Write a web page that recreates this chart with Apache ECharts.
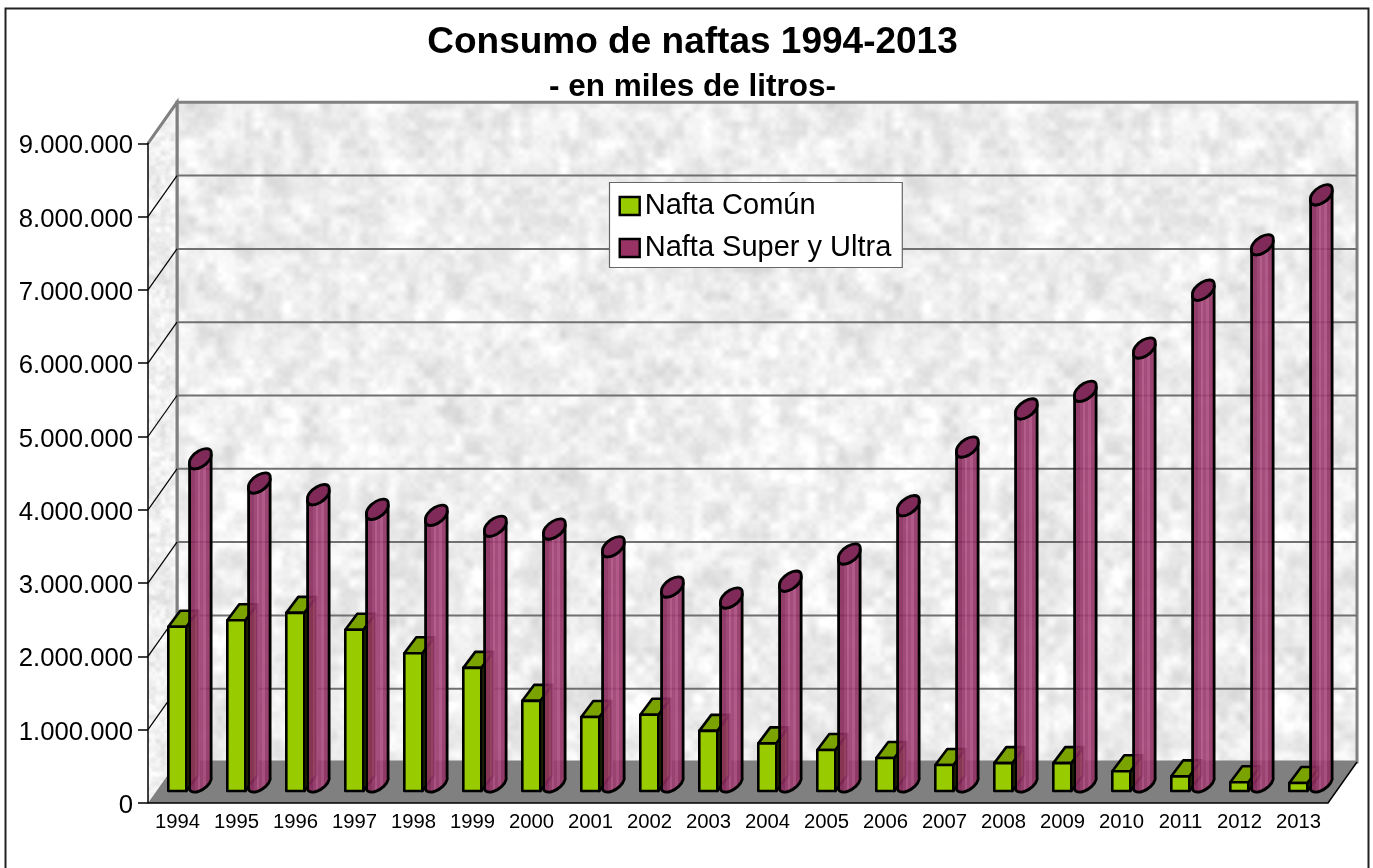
<!DOCTYPE html>
<html>
<head>
<meta charset="utf-8">
<style>html,body{margin:0;padding:0;background:#fff}#c{width:1373px;height:868px}</style>
<script src="https://cdn.jsdelivr.net/npm/echarts@6/dist/echarts.min.js"></script>
</head>
<body>
<div id="c"></div>
<script>
const years = ['1994','1995','1996','1997','1998','1999','2000','2001','2002','2003','2004','2005','2006','2007','2008','2009','2010','2011','2012','2013'];
const naftaComun = [2240000,2330000,2430000,2200000,1880000,1680000,1230000,1010000,1040000,820000,650000,560000,450000,355000,380000,380000,270000,200000,120000,110000];
const naftaSuper = [4410000,4080000,3920000,3720000,3640000,3490000,3450000,3210000,2660000,2510000,2740000,3110000,3770000,4570000,5090000,5330000,5920000,6710000,7330000,8010000];
const yTicks = [1000000,2000000,3000000,4000000,5000000,6000000,7000000,8000000,9000000];
const titleText = 'Consumo de naftas 1994-2013';
const subtitleText = '- en miles de litros-';
const seriesNames = ['Nafta Común','Nafta Super y Ultra'];

const FONT = '"Liberation Sans", Arial, sans-serif';
const WALL_DX = 29, WALL_DY = -41;   // depth of the 3D box
const BAR_DX = 12, BAR_DY = -16;     // depth of the square bars
const BASE_LIFT = 12;                // bars stand this far behind the floor's front edge

// deterministic mottled texture for the walls
function makeTexture(size, base, amp, sd) {
  const cv = document.createElement('canvas');
  cv.width = cv.height = size;
  const ctx = cv.getContext('2d');
  const img = ctx.createImageData(size, size);
  let seed = sd;
  const next = () => {
    seed ^= seed << 13; seed ^= seed >>> 17; seed ^= seed << 5;
    return (seed >>> 0) / 4294967296;
  };
  function layer(n) {
    const g = [];
    for (let i = 0; i < n * n; i++) g.push(next());
    return (x, y) => {
      const fx = x / size * n, fy = y / size * n;
      const ix = Math.floor(fx), iy = Math.floor(fy);
      let tx = fx - ix, ty = fy - iy;
      tx = tx * tx * (3 - 2 * tx); ty = ty * ty * (3 - 2 * ty);
      const v = (a, b) => g[(b % n) * n + (a % n)];
      return (v(ix, iy) * (1 - tx) + v(ix + 1, iy) * tx) * (1 - ty) +
             (v(ix, iy + 1) * (1 - tx) + v(ix + 1, iy + 1) * tx) * ty;
    };
  }
  const a = layer(12), b = layer(31), c = layer(67), d = layer(140);
  for (let y = 0; y < size; y++) for (let x = 0; x < size; x++) {
    const t = a(x, y) * 0.15 + b(x, y) * 0.3 + c(x, y) * 0.4 + d(x, y) * 0.15;
    const val = Math.max(0, Math.min(255, base + (t - 0.5) * amp));
    const i = (y * size + x) * 4;
    img.data[i] = img.data[i + 1] = img.data[i + 2] = val;
    img.data[i + 3] = 255;
  }
  ctx.putImageData(img, 0, 0);
  return cv;
}
const wallPattern = { image: makeTexture(640, 238, 62, 2463534242), repeat: 'repeat' };
const sidePattern = { image: makeTexture(320, 240, 55, 88172645), repeat: 'repeat' };

function renderWalls(params, api) {
  const cs = params.coordSys;
  const x0 = cs.x, x1 = cs.x + cs.width, yb = cs.y + cs.height, yt = cs.y;
  const pts = (arr) => ({ points: arr });
  const grey = '#808080';
  return { type: 'group', children: [
    { type: 'polygon', shape: pts([[x0 + WALL_DX, yt + WALL_DY], [x1 + WALL_DX, yt + WALL_DY], [x1 + WALL_DX, yb + WALL_DY], [x0 + WALL_DX, yb + WALL_DY]]),
      style: { fill: wallPattern, stroke: grey, lineWidth: 3 } },
    { type: 'polygon', shape: pts([[x0, yt], [x0 + WALL_DX, yt + WALL_DY], [x0 + WALL_DX, yb + WALL_DY], [x0, yb]]),
      style: { fill: sidePattern, stroke: null } },
    { type: 'polyline', shape: pts([[x0, yt], [x0 + WALL_DX, yt + WALL_DY], [x0 + WALL_DX, yb + WALL_DY]]),
      style: { fill: null, stroke: grey, lineWidth: 3 } },
    { type: 'polygon', shape: pts([[x0, yb], [x1, yb], [x1 + WALL_DX, yb + WALL_DY], [x0 + WALL_DX, yb + WALL_DY]]),
      style: { fill: '#808080', stroke: null } },
    { type: 'polyline', shape: pts([[x0, yb], [x1, yb], [x1 + WALL_DX, yb + WALL_DY]]),
      style: { fill: null, stroke: '#000', lineWidth: 1.5 } }
  ]};
}

function renderGrid(params, api) {
  const p = api.coord([0, api.value(0)]);
  const cs = params.coordSys;
  const x0 = cs.x, x1 = cs.x + cs.width, y = p[1];
  const kids = [];
  if (api.value(0) < 9000000) {
    kids.push({ type: 'line', shape: { x1: x0 + WALL_DX, y1: y + WALL_DY, x2: x1 + WALL_DX, y2: y + WALL_DY },
      style: { stroke: '#707070', lineWidth: 2 } });
    kids.push({ type: 'line', shape: { x1: x0, y1: y, x2: x0 + WALL_DX, y2: y + WALL_DY },
      style: { stroke: '#000', lineWidth: 1.2 } });
  }
  return { type: 'group', children: kids };
}

function renderBox(params, api) {
  const c = api.coord([api.value(0), 0])[0];
  const base = api.coord([api.value(0), 0])[1] - BASE_LIFT;
  const top = api.coord([api.value(0), api.value(1)])[1] - BASE_LIFT;
  const L = c - 9.2, R = c + 8.8;
  const st = { stroke: '#000', lineWidth: 2.6, lineJoin: 'round' };
  return { type: 'group', children: [
    { type: 'polygon', shape: { points: [[R, top], [R + BAR_DX, top + BAR_DY], [R + BAR_DX, base + BAR_DY], [R, base]] },
      style: Object.assign({ fill: '#7aa300' }, st) },
    { type: 'polygon', shape: { points: [[L, top], [R, top], [R + BAR_DX, top + BAR_DY], [L + BAR_DX, top + BAR_DY]] },
      style: Object.assign({ fill: '#7aa300' }, st) },
    { type: 'rect', shape: { x: L, y: top, width: R - L, height: base - top },
      style: Object.assign({ fill: '#99cc00' }, st) }
  ]};
}

const A = 0.9;
const cylStops = [[0,0.14,'118,34,78'],[0.14,0.3,'136,42,92'],[0.3,0.42,'150,56,106'],[0.42,0.5,'174,78,130'],[0.5,0.6,'154,60,110'],[0.6,0.72,'170,74,126'],[0.72,0.86,'146,50,100'],[0.86,1,'126,38,84']];
const cylGradient = {
  type: 'linear', x: 0, y: 0, x2: 1, y2: 0,
  colorStops: cylStops.flatMap(s => [
    { offset: s[0], color: `rgba(${s[2]},${A})` },
    { offset: s[1], color: `rgba(${s[2]},${A})` }
  ])
};

function renderCylinder(params, api) {
  const c = api.coord([api.value(0), 0])[0];
  const base = api.coord([api.value(0), 0])[1] - BASE_LIFT;
  const top = api.coord([api.value(0), api.value(1)])[1] - BASE_LIFT;
  const L = c + 12.1, R = c + 33.6;
  const rx = 12.5, ry = 6.5, rot = -35, off = 4.9, half = 9;
  const cyT = top - half, cyB = base - half;
  const arc = (x, y, sweep) => `A ${rx} ${ry} ${rot} 1 ${sweep} ${x} ${y}`;
  const body = `M ${L} ${cyT + off} L ${L} ${cyB + off} ${arc(R, cyB - off, 0)} L ${R} ${cyT - off} ${arc(L, cyT + off, 1)} Z`;
  const cap = `M ${L} ${cyT + off} ${arc(R, cyT - off, 1)} ${arc(L, cyT + off, 1)} Z`;
  return { type: 'group', children: [
    { type: 'path', shape: { pathData: body },
      style: { fill: cylGradient, stroke: '#000', lineWidth: 2.8, lineJoin: 'round' } },
    { type: 'path', shape: { pathData: cap },
      style: { fill: '#7f2a58', stroke: '#000', lineWidth: 2.8, lineJoin: 'round' } }
  ]};
}

const chart = echarts.init(document.getElementById('c'), null, { renderer: 'canvas', width: 1373, height: 868 });
chart.setOption({
  animation: false,
  backgroundColor: '#fff',
  textStyle: { fontFamily: FONT },
  title: [
    { text: titleText, left: 692.5, top: 24, textAlign: 'center', padding: 0,
      textStyle: { fontFamily: FONT, fontSize: 37, fontWeight: 'bold', color: '#000' } },
    { text: subtitleText, left: 692.5, top: 71, textAlign: 'center', padding: 0,
      textStyle: { fontFamily: FONT, fontSize: 31.5, fontWeight: 'bold', color: '#000' } }
  ],
  legend: {
    left: 609.5, top: 182.5, orient: 'vertical', z: 20,
    backgroundColor: '#fff', borderColor: '#666', borderWidth: 1.2, borderRadius: 0,
    padding: [9, 11, 5, 9], itemGap: 13, itemWidth: 20, itemHeight: 18,
    selectedMode: false,
    textStyle: { fontFamily: FONT, fontSize: 29, color: '#000' },
    data: [
      { name: seriesNames[0], icon: 'rect', itemStyle: { color: '#99cc00', borderColor: '#000', borderWidth: 2.4 } },
      { name: seriesNames[1], icon: 'rect', itemStyle: { color: '#993366', borderColor: '#000', borderWidth: 2.4 } }
    ]
  },
  grid: { left: 148, top: 143.3, width: 1180, height: 659.7, containLabel: false },
  xAxis: {
    type: 'category', data: years, boundaryGap: true,
    axisLine: { show: false }, axisTick: { show: false },
    axisLabel: { interval: 0, fontFamily: FONT, fontSize: 20.3, color: '#000', margin: 9 }
  },
  yAxis: {
    type: 'value', min: 0, max: 9000000, interval: 1000000, z: 10,
    splitLine: { show: false },
    axisLine: { show: true, onZero: false, lineStyle: { color: '#000', width: 1.5 } },
    axisTick: { show: true, length: 10, lineStyle: { color: '#000', width: 1.5 } },
    axisLabel: { color: '#000', margin: 15,
      rich: { t: { fontFamily: FONT, fontSize: 25.7, color: '#000', padding: [6, 0, 0, 0] } },
      formatter: v => '{t|' + String(v).replace(/\B(?=(\d{3})+$)/g, '.') + '}' }
  },
  graphic: [{
    type: 'rect', silent: true, z: -1,
    shape: { x: 5.5, y: 8.5, width: 1363, height: 870 },
    style: { fill: '#fff', stroke: '#222', lineWidth: 2 }
  }],
  series: [
    { type: 'custom', name: 'walls', silent: true, z: 1, data: [[0]], encode: { x: -1, y: -1 }, renderItem: renderWalls, clip: false },
    { type: 'custom', name: 'grid', silent: true, z: 2, data: yTicks.map(v => [v]), encode: { x: -1, y: 0 }, renderItem: renderGrid, clip: false },
    { type: 'custom', name: seriesNames[0], silent: true, z: 3, data: years.map((y, i) => [i, naftaComun[i]]), encode: { x: 0, y: 1 }, renderItem: renderBox, clip: false },
    { type: 'custom', name: seriesNames[1], silent: true, z: 4, data: years.map((y, i) => [i, naftaSuper[i]]), encode: { x: 0, y: 1 }, renderItem: renderCylinder, clip: false }
  ]
});
</script>
</body>
</html>
